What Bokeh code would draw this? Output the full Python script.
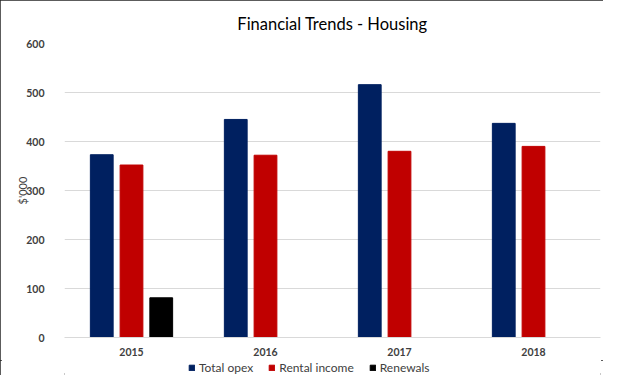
from bokeh.plotting import figure
from bokeh.layouts import column
from bokeh.models import ColumnDataSource, FactorRange, Range1d, Legend, LegendItem, FixedTicker
from bokeh.transform import dodge
from bokeh.embed import file_html
from bokeh.resources import INLINE

years = ["2015", "2016", "2017", "2018"]
total_opex = [373, 445, 516, 437]
rental_income = [352, 372, 380, 390]
renewals = [81, float("nan"), float("nan"), float("nan")]
series_names = ["Total opex", "Rental income", "Renewals"]
colors = ["#002060", "#C00000", "#000000"]
y_ticks = [0, 100, 200, 300, 400, 500, 600]

src = ColumnDataSource(dict(year=years, opex=total_opex, rental=rental_income, renew=renewals))
fields = ["opex", "rental", "renew"]
offsets = [-0.222, 0.0, 0.222]

FONT = "Lato"
TEXT = "#404040"

p = figure(x_range=FactorRange(*years), y_range=Range1d(0, 600),
           width=603, height=360, output_backend="svg", toolbar_location=None,
           title="Financial Trends - Housing",
           min_border_left=64, min_border_right=3, min_border_top=43, min_border_bottom=23)

p.title.align = "center"
p.title.text_font = FONT
p.title.text_font_size = "16.5px"
p.title.text_font_style = "normal"
p.title.text_color = "#000000"
p.title.standoff = 20

for field, off, col in zip(fields, offsets, colors):
    p.vbar(x=dodge("year", off, range=p.x_range), top=field, width=0.17, bottom=0,
           source=src, fill_color=col, line_color=col, line_width=1)

p.xgrid.grid_line_color = None
p.ygrid.grid_line_color = "#d9d9d9"
p.ygrid.grid_line_width = 1
p.yaxis.ticker = FixedTicker(ticks=y_ticks)
p.yaxis.axis_line_color = None
p.yaxis.major_tick_line_color = None
p.yaxis.minor_tick_line_color = None
p.yaxis.major_tick_out = 0
p.yaxis.major_label_standoff = 20
p.yaxis.axis_label = "$'000"
p.yaxis.axis_label_standoff = -6
p.yaxis.axis_label_text_font = FONT
p.yaxis.axis_label_text_font_size = "11px"
p.yaxis.axis_label_text_font_style = "normal"
p.yaxis.axis_label_text_color = TEXT

p.xaxis.axis_line_color = "#d9d9d9"
p.xaxis.major_tick_line_color = None
p.xaxis.minor_tick_line_color = None
p.xaxis.major_tick_out = 0
p.xaxis.major_label_standoff = 10

for ax in (p.xaxis, p.yaxis):
    ax.major_label_text_font = FONT
    ax.major_label_text_font_size = "10.5px"
    ax.major_label_text_font_style = "bold"
    ax.major_label_text_color = TEXT

p.outline_line_color = None
p.background_fill_color = "white"
p.border_fill_color = "white"

# legend strip (its key glyphs come from the same series, kept outside the visible y-range)
pl = figure(x_range=FactorRange(*years), y_range=Range1d(1000, 1001),
            width=603, height=15, output_backend="svg", toolbar_location=None,
            min_border=0, x_axis_location=None, y_axis_location=None)
pl.grid.grid_line_color = None
pl.outline_line_color = None
leg_renderers = []
for field, off, col in zip(fields, offsets, colors):
    r = pl.vbar(x=dodge("year", off, range=pl.x_range), top=field, width=0.17, bottom=0,
                source=src, fill_color=col, line_color=col)
    leg_renderers.append(r)

legend = Legend(items=[LegendItem(label=n, renderers=[r]) for n, r in zip(series_names, leg_renderers)],
                orientation="horizontal", location=(124, 0),
                glyph_width=7, glyph_height=7, spacing=15, label_standoff=4,
                label_text_font=FONT, label_text_font_size="12px", label_text_color=TEXT,
                border_line_color=None, background_fill_alpha=0, padding=0, margin=0)
pl.add_layout(legend, "center")

layout = column(p, pl, spacing=0)
layout.styles = {"outline": "2px solid #262626", "outline-offset": "-2px"}
open("out.html", "w").write(file_html(layout, INLINE))
